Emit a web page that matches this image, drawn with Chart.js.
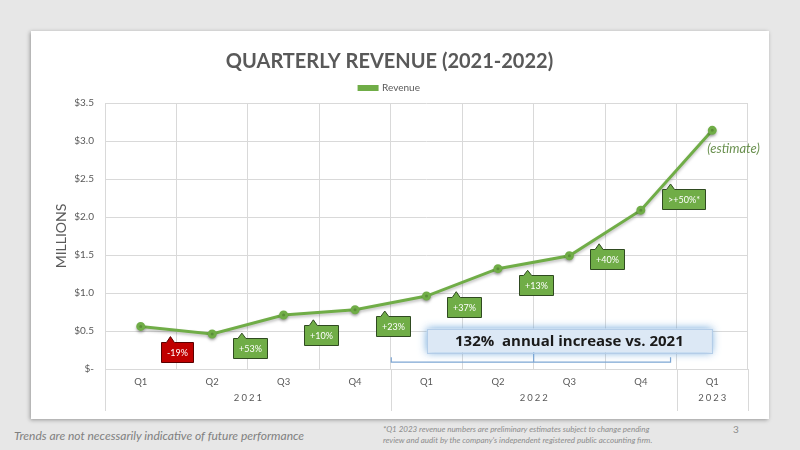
<!DOCTYPE html>
<html lang="en">
<head>
  <meta charset="UTF-8">
  <title>Quarterly Revenue</title>
  <script src="https://cdn.jsdelivr.net/npm/chart.js"></script>
  <style>
    body {
      margin: 0;
      width: 800px;
      height: 450px;
      background: #e7e7e7;
      font-family: Lato, sans-serif;
      position: relative;
      overflow: hidden;
    }
    .card {
      position: absolute;
      left: 31px;
      top: 31px;
      width: 738px;
      height: 388px;
      background: #fff;
      box-shadow: -1px 1px 4px rgba(0,0,0,0.35);
    }
    .trend {
      position: absolute;
      left: 14px;
      top: 428px;
      font-style: italic;
      font-size: 12px;
      color: #808080;
    }
    .note {
      position: absolute;
      left: 383px;
      top: 424px;
      font-style: italic;
      font-size: 8px;
      line-height: 11px;
      color: #8c8c8c;
    }
    .page {
      position: absolute;
      left: 733px;
      top: 423px;
      font-size: 10px;
      color: #8c8c8c;
    }
  </style>
</head>
<body>
<div class="card">
  <canvas id="revenueChart" width="738" height="388"></canvas>
</div>
<div class="trend">Trends are not necessarily indicative of future performance</div>
<div class="note">*Q1 2023 revenue numbers are preliminary estimates subject to change pending<br>review and audit by the company's independent registered public accounting firm.</div>
<div class="page">3</div>

<script>
  // data
  const quarters = ['Q1', 'Q2', 'Q3', 'Q4', 'Q1', 'Q2', 'Q3', 'Q4', 'Q1'];
  const years = ['2021', '2022', '2023'];
  const yearSpans = [4, 4, 1];
  const revenue = [0.56, 0.46, 0.71, 0.78, 0.96, 1.32, 1.49, 2.09, 3.14];
  const changes = ['-19%', '+53%', '+10%', '+23%', '+37%', '+13%', '+40%', '>+50%*'];
  const yTicks = [0, 0.5, 1, 1.5, 2, 2.5, 3, 3.5];
  const summaryText = '132%  annual increase vs. 2021';
  const estimateText = '(estimate)';

  const green = '#70ad47';
  const grey = '#595959';

  // line shadow
  const lineShadow = {
    id: 'lineShadow',
    beforeDatasetDraw(chart) {
      const ctx = chart.ctx;
      ctx.save();
      ctx.shadowColor = 'rgba(0,0,0,0.25)';
      ctx.shadowBlur = 3;
      ctx.shadowOffsetY = 2;
    },
    afterDatasetDraw(chart) {
      chart.ctx.restore();
    }
  };

  // year row, callouts, summary box
  const overlay = {
    id: 'overlay',
    afterDraw(chart) {
      const ctx = chart.ctx;
      const x = chart.scales.x;
      const y = chart.scales.y;
      const area = chart.chartArea;
      const step = x.getPixelForValue(1) - x.getPixelForValue(0);
      const edge = i => x.getPixelForValue(0) + (i - 0.5) * step;

      ctx.save();
      // year separators + labels
      ctx.strokeStyle = '#d9d9d9';
      ctx.lineWidth = 1;
      ctx.fillStyle = grey;
      ctx.font = '9.5px Lato';
      ctx.letterSpacing = '2px';
      ctx.textAlign = 'center';
      ctx.textBaseline = 'middle';
      let start = 0;
      years.forEach((yr, k) => {
        const x0 = Math.round(edge(start)) + 0.5;
        ctx.beginPath();
        ctx.moveTo(x0, area.bottom);
        ctx.lineTo(x0, area.bottom + 42);
        ctx.stroke();
        const cx = x.getPixelForValue(start) + (yearSpans[k] - 1) / 2 * step;
        ctx.fillText(yr, cx + 1, area.bottom + 29);
        start += yearSpans[k];
      });
      const xe = Math.round(edge(start)) + 0.5;
      ctx.beginPath();
      ctx.moveTo(xe, area.bottom);
      ctx.lineTo(xe, area.bottom + 42);
      ctx.stroke();
      ctx.letterSpacing = '0px';

      // quarter-over-quarter callouts
      ctx.font = '9px Lato';
      changes.forEach((txt, i) => {
        const px = edge(i + 1) - 6;
        const frac = 0.5 - 6 / step;
        const v = revenue[i] + (revenue[i + 1] - revenue[i]) * frac;
        const tipY = y.getPixelForValue(v) + 7;
        const w = Math.round(ctx.measureText(txt).width + 11);
        const h = 20;
        const left = Math.round(px - 9) + 0.5;
        const top = Math.round(tipY + 5) + 0.5;
        ctx.beginPath();
        ctx.moveTo(left, top);
        ctx.lineTo(px - 4, top);
        ctx.lineTo(px, tipY);
        ctx.lineTo(px + 4, top);
        ctx.lineTo(left + w, top);
        ctx.lineTo(left + w, top + h);
        ctx.lineTo(left, top + h);
        ctx.closePath();
        ctx.fillStyle = txt.startsWith('-') ? '#c00000' : green;
        ctx.strokeStyle = txt.startsWith('-') ? '#5a0000' : '#2f4a20';
        ctx.fill();
        ctx.stroke();
        ctx.fillStyle = '#fff';
        ctx.fillText(txt, left + w / 2, top + h / 2 + 1);
      });

      // estimate note next to the last point
      const last = revenue.length - 1;
      ctx.font = 'italic 13px Lato';
      ctx.fillStyle = '#6b9150';
      ctx.textAlign = 'left';
      ctx.fillText(estimateText, x.getPixelForValue(last) - 5, y.getPixelForValue(revenue[last]) + 18);

      // bracket under 2022
      const by = y.getPixelForValue(0.09);
      const bl = edge(4) + 0.5;
      const br = edge(8) - 6;
      const bm = edge(6);
      const boxCy = y.getPixelForValue(0.375);
      ctx.strokeStyle = '#7ea6d3';
      ctx.lineWidth = 1.2;
      ctx.beginPath();
      ctx.moveTo(bl, by - 5);
      ctx.lineTo(bl, by);
      ctx.lineTo(br, by);
      ctx.lineTo(br, by - 5);
      ctx.moveTo(bm, by);
      ctx.lineTo(bm, boxCy);
      ctx.stroke();

      // summary box
      const bw = 285, bh = 24;
      const bcx = x.getPixelForValue(6);
      ctx.save();
      ctx.shadowColor = 'rgba(91,155,213,0.9)';
      ctx.shadowBlur = 8;
      ctx.fillStyle = '#dce8f5';
      ctx.fillRect(bcx - bw / 2, boxCy - bh / 2, bw, bh);
      ctx.restore();
      ctx.strokeStyle = '#b4cde8';
      ctx.lineWidth = 1;
      ctx.strokeRect(Math.round(bcx - bw / 2) + 0.5, Math.round(boxCy - bh / 2) + 0.5, bw, bh);
      ctx.font = 'bold 15px "Open Sans"';
      ctx.fillStyle = '#1a1a1a';
      ctx.textAlign = 'center';
      ctx.fillText(summaryText, bcx, boxCy + 1);
      ctx.restore();
    }
  };

  Chart.defaults.font.family = 'Lato';
  Chart.defaults.color = grey;

  const ctx = document.getElementById('revenueChart').getContext('2d');
  new Chart(ctx, {
    type: 'line',
    data: {
      labels: quarters,
      datasets: [{
        label: 'Revenue',
        data: revenue,
        borderColor: green,
        backgroundColor: green,
        borderWidth: 3,
        pointRadius: 3,
        pointBackgroundColor: green,
        pointBorderColor: green,
        tension: 0
      }]
    },
    options: {
      responsive: false,
      animation: false,
      layout: { padding: { left: 0, right: 21, top: 0, bottom: 0 } },
      scales: {
        x: {
          type: 'category',
          offset: true,
          grid: { offset: true, color: '#d9d9d9', drawTicks: false },
          border: { color: '#d9d9d9' },
          ticks: { padding: 7, font: { size: 9.5 }, color: grey, maxRotation: 0 },
          afterFit(scale) { scale.height = 50; }
        },
        y: {
          min: 0,
          max: 3.5,
          afterBuildTicks(scale) { scale.ticks = yTicks.map(v => ({ value: v })); },
          grid: { color: '#d9d9d9', drawTicks: false },
          border: { display: false },
          ticks: {
            padding: 11,
            font: { size: 10 },
            color: grey,
            callback: v => v === 0 ? '$-' : '$' + v.toFixed(1)
          },
          title: {
            display: true,
            text: 'MILLIONS',
            font: { size: 14 },
            color: grey,
            padding: { top: 22, bottom: 0 }
          },
          afterFit(scale) { scale.width = 74; }
        }
      },
      plugins: {
        title: {
          display: true,
          text: 'QUARTERLY REVENUE (2021-2022)',
          font: { size: 20, weight: 'bold' },
          color: grey,
          padding: { top: 19, bottom: 1 }
        },
        legend: {
          labels: {
            boxWidth: 18,
            boxHeight: 3,
            padding: 8,
            font: { size: 10 },
            color: grey
          }
        },
        tooltip: { enabled: false }
      }
    },
    plugins: [lineShadow, overlay]
  });
</script>
</body>
</html>
